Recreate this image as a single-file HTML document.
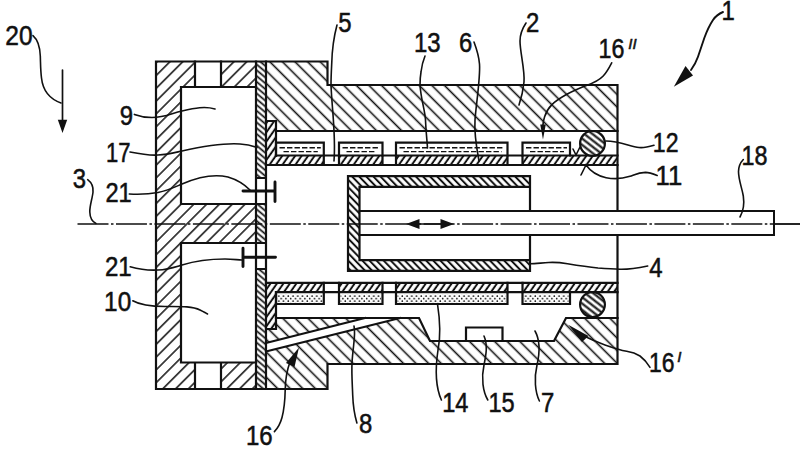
<!DOCTYPE html>
<html><head><meta charset="utf-8"><title>Fig</title>
<style>
html,body{margin:0;padding:0;background:#fff;}
body{width:800px;height:450px;overflow:hidden;font-family:"Liberation Sans",sans-serif;}
svg{display:block}
text{font-family:"Liberation Sans",sans-serif;fill:#111;stroke:#111;stroke-width:0.55px;}
.o{fill:none;stroke:#111;stroke-width:2.2;stroke-linecap:square;stroke-linejoin:miter}
.l{fill:none;stroke:#111;stroke-width:1.6;stroke-linecap:round}
.n{font-size:27.5px}
.s{font-size:15px;font-style:italic}
</style></head><body>
<svg width="800" height="450" viewBox="0 0 800 450">
<defs>
<!-- hatch patterns -->
<pattern id="hL" patternUnits="userSpaceOnUse" width="9.05" height="9.05" patternTransform="translate(156,56.5) rotate(-45)">
  <line x1="0" y1="4.5" x2="9.05" y2="4.5" stroke="#111" stroke-width="1.5"/>
</pattern>
<pattern id="hH" patternUnits="userSpaceOnUse" width="8.895" height="8.895" patternTransform="translate(262.79,61) rotate(45)">
  <line x1="0" y1="4.4475" x2="8.895" y2="4.4475" stroke="#111" stroke-width="1.6"/>
</pattern>
<pattern id="hH2" patternUnits="userSpaceOnUse" width="8.895" height="8.895" patternTransform="translate(258.25,61) rotate(45)">
  <line x1="0" y1="4.4475" x2="8.895" y2="4.4475" stroke="#111" stroke-width="1.6"/>
</pattern>
<pattern id="hP" patternUnits="userSpaceOnUse" width="4.44" height="4.44" patternTransform="translate(256,61) rotate(40)">
  <line x1="0" y1="2.2" x2="4.44" y2="2.2" stroke="#111" stroke-width="1.7"/>
</pattern>
<pattern id="hS" patternUnits="userSpaceOnUse" width="5.3" height="5.3" patternTransform="translate(266,156) rotate(-55)">
  <line x1="0" y1="2.6" x2="5.3" y2="2.6" stroke="#111" stroke-width="2.0"/>
</pattern>
<pattern id="hK" patternUnits="userSpaceOnUse" width="5.1" height="5.1" patternTransform="translate(348,176) rotate(46)">
  <line x1="0" y1="2.5" x2="5.1" y2="2.5" stroke="#111" stroke-width="2.0"/>
</pattern>
<pattern id="hO" patternUnits="userSpaceOnUse" width="5" height="5" patternTransform="translate(592.5,143.5) rotate(38)">
  <line x1="0" y1="2.5" x2="5" y2="2.5" stroke="#111" stroke-width="2.1"/>
</pattern>
<pattern id="dots" patternUnits="userSpaceOnUse" width="4.75" height="5" patternTransform="translate(277.6,294.9)">
  <circle cx="1.2" cy="1.2" r="0.85" fill="#111"/>
  <circle cx="3.57" cy="3.7" r="0.85" fill="#111"/>
</pattern>
<pattern id="liq" patternUnits="userSpaceOnUse" width="7" height="8.4" patternTransform="translate(279,144)">
  <path d="M0.5,2.6 q1.2,-1 2.4,0 t2.4,0" fill="none" stroke="#111" stroke-width="1.25"/>
  <path d="M4,6.6 q1.2,-1 2.4,0 t2.4,0 M-3,6.6 q1.2,-1 2.4,0 t2.4,0" fill="none" stroke="#111" stroke-width="1.25"/>
</pattern>
</defs>
<rect width="800" height="450" fill="#fff"/>

<!-- left block -->
<path fill="url(#hL)" fill-rule="evenodd" d="M156,61.5 H256 V389 H156 Z M195,61.5 H221 V87 H195 Z M181,87 H256 V204 H181 Z M181,243 H256 V362.5 H181 Z M195,362.5 H221 V389 H195 Z"/>
<path class="o" d="M156,61.5 H327.5 V85 H617.5 V211 M617.5,235 V364 H327.5 V389 H156 V61.5"/>
<path class="o" d="M195,61.5 V87 M221,61.5 V87 M181,87 H256 M181,87 V204 H256 M181,243 H256 M181,243 V362.5 H256 M195,362.5 V389 M221,362.5 V389"/>
<!-- plate -->
<path fill="url(#hP)" d="M256,61.5 H266 V178 H256 Z M256,204 H266 V243 H256 Z M256,269 H266 V389 H256 Z"/>
<path class="o" d="M256,61.5 V389 M266,61.5 V389 M256,178 H266 M256,204 H266 M256,243 H266 M256,269 H266"/>
<!-- upper housing -->
<path fill="url(#hH)" d="M266,61.5 H327.5 V85 H617.5 V131 H276 V121 H266 Z"/>
<path class="o" d="M276,131 H617.5 M266,121 H276 V156"/>
<!-- upper sleeve -->
<path fill="url(#hS)" d="M266,121 H276 V156 H266 Z M266,156 H323.8 V165 H266 Z M339,156 H382.5 V165 H339 Z M396,156 H507.5 V165 H396 Z M522.5,156 H617.5 V165 H522.5 Z "/>
<path class="o" d="M276,155.5 H617.5 M266,165 H617.5"/>
<path class="o" d="M323.8,156 V165 M339,156 V165 M382.5,156 V165 M396,156 V165 M507.5,156 V165 M522.5,156 V165 "/>
<path d="M279.5,147.8 H320.8" fill="none" stroke="#111" stroke-width="1.4" stroke-dasharray="5.4 2.1"/>
<path d="M283.5,151.6 H317.8" fill="none" stroke="#111" stroke-width="1.4" stroke-dasharray="5.4 2.1"/>
<path class="o" d="M276,155.5 V142.7 H323.8 V155.5"/>
<path d="M342.5,147.8 H379.5" fill="none" stroke="#111" stroke-width="1.4" stroke-dasharray="5.4 2.1"/>
<path d="M346.5,151.6 H376.5" fill="none" stroke="#111" stroke-width="1.4" stroke-dasharray="5.4 2.1"/>
<path class="o" d="M339,155.5 V142.7 H382.5 V155.5"/>
<path d="M399.5,147.8 H504.5" fill="none" stroke="#111" stroke-width="1.4" stroke-dasharray="5.4 2.1"/>
<path d="M403.5,151.6 H501.5" fill="none" stroke="#111" stroke-width="1.4" stroke-dasharray="5.4 2.1"/>
<path class="o" d="M396,155.5 V142.7 H507.5 V155.5"/>
<path d="M526.0,147.8 H567" fill="none" stroke="#111" stroke-width="1.4" stroke-dasharray="5.4 2.1"/>
<path d="M530.0,151.6 H564" fill="none" stroke="#111" stroke-width="1.4" stroke-dasharray="5.4 2.1"/>
<path class="o" d="M522.5,155.5 V142.7 H570 V155.5"/>
<!-- lower sleeve -->
<path fill="url(#hS)" d="M266,292 H276 V329 H266 Z M266,282.8 H323.8 V292.1 H266 Z M339,282.8 H382.5 V292.1 H339 Z M396,282.8 H507.5 V292.1 H396 Z M522.5,282.8 H617.5 V292.1 H522.5 Z "/>
<path class="o" d="M266,282.8 H617.5 M276,292.1 H617.5 M276,292.1 V329 H266"/>
<path class="o" d="M323.8,282.8 V292.1 M339,282.8 V292.1 M382.5,282.8 V292.1 M396,282.8 V292.1 M507.5,282.8 V292.1 M522.5,282.8 V292.1 "/>
<rect x="277.5" y="294.8" width="44.80000000000001" height="7.8" fill="url(#dots)"/>
<path class="o" d="M276,292.1 V304 H323.8 V292.1"/>
<rect x="340.5" y="294.8" width="40.5" height="7.8" fill="url(#dots)"/>
<path class="o" d="M339,292.1 V304 H382.5 V292.1"/>
<rect x="397.5" y="294.8" width="108.5" height="7.8" fill="url(#dots)"/>
<path class="o" d="M396,292.1 V304 H507.5 V292.1"/>
<rect x="524.0" y="294.8" width="44.5" height="7.8" fill="url(#dots)"/>
<path class="o" d="M522.5,292.1 V304 H570 V292.1"/>
<!-- lower housing -->
<path fill="url(#hH2)" fill-rule="evenodd" d="M266,329 H276 V318 H419 L430,341 H554 L566,318 H617.5 V364 H327.5 V389 H266 Z M266,343 L365,318 H400 L266,351.5 Z"/>
<path class="o" d="M276,318 H419 L430,341 H554 L566,318 H617.5 M266,343 L365,318 M400,318 L266,351.5"/>
<path class="o" d="M466,341 V327.5 H502.5 V341" fill="#fff"/>
<!-- o-rings -->
<circle cx="592.5" cy="143.4" r="12.4" fill="#fff"/>
<circle cx="592.5" cy="143.4" r="12.4" fill="url(#hO)" stroke="#111" stroke-width="2.2"/>
<circle cx="592.5" cy="304.6" r="12.4" fill="#fff"/>
<circle cx="592.5" cy="304.6" r="12.4" fill="url(#hO)" stroke="#111" stroke-width="2.2"/>
<path class="l" d="M573,149 L576,155 L580,147"/>
<!-- piston -->
<path fill="url(#hK)" d="M348,176.2 H530 V186.8 H359.5 V260.2 H530 V270.8 H348 Z"/>
<path class="o" d="M348,176.2 H530 V186.8 H359.5 V260.2 H530 V270.8 H348 Z M530,186.8 V211 M530,235 V260.2"/>
<!-- rod -->
<path class="o" style="stroke-width:2" d="M359.5,211 H774 V235 H359.5"/>
<!-- centre line -->
<path d="M77.5,224 H800" fill="none" stroke="#111" stroke-width="1.3" stroke-dasharray="31 2.5 2.5 2.46"/>
<path d="M410,224 H450" fill="none" stroke="#111" stroke-width="1.6"/>
<path d="M406,224 L419.5,219 V229 Z M454,224 L440.5,219 V229 Z" fill="#111"/>
<path d="M774,224 H800" fill="none" stroke="#111" stroke-width="1.3"/>
<!-- valves -->
<path d="M243,191 H275 M275,182 V201.5 M243,257.2 H275.5 M243,248.3 V266.5" fill="none" stroke="#111" stroke-width="2.9" stroke-linecap="round"/>
<!-- arrows & leaders -->
<path class="l" style="stroke-width:1.7" d="M62.5,70 V125"/>
<path d="M62.5,133 L57.8,119.8 H67.2 Z" fill="#111"/>
<path class="l" d="M33,35.6 C38,40 40,48 40.3,56 C40.6,64 40.5,70 41.5,78 C43,92 50,99 61,103"/>
<path class="l" d="M87.7,179.7 C92,183 93.5,187 93,192 C92.5,198 89.5,206 89.8,212 C90,218 93,222 96,223.5"/>
<path class="l" d="M134.4,114.4 C140,116.5 146,117.5 152,117.5 C165,117.5 172,113 182,111 C195,108 205,106 215,109"/>
<path class="l" d="M130,152 C140,154 150,155.5 158,155 C168,154.5 175,152.5 182,151 C200,147 225,143 240,144 C248,144.5 253,146 257,147.5"/>
<path class="l" d="M129.3,194 C140,194.5 150,194 158,192.5 C168,190.5 175,187 182,184 C198,177 215,174 228,177 C238,180 245,185 250,190"/>
<path class="l" d="M130.2,266.7 C140,269.5 150,270.5 158,270 C168,269.5 175,267 182,265 C198,260 212,259 225,259 C233,259 238,260 242,260"/>
<path class="l" d="M132.8,300.8 C140,305 150,306.5 165,306.5 C180,306.5 192,306 200,310 C204,312 206,313 207.5,314"/>
<path class="l" d="M337,25 C333.5,38 332,52 331.7,64 C331.3,72 331,78 331,85 C332,110 336,135 334,161"/>
<path class="l" d="M425,56 C422.5,62 421.5,68 421,72 C420,78 420,82 420,85 C421,100 425,110 425.5,120 C426,132 427,140 427.5,148"/>
<path class="l" d="M474,42 C477,50 479,58 479.5,64 C480.5,78 476,105 475,120 C474,135 477,150 479,161"/>
<path class="l" d="M526,23 C522,29 520,35 520,41 C520,52 525,70 524,82 C523,92 521,99 519,105"/>
<path class="l" d="M611.7,62.8 C609,68 606.5,72.5 603.2,76 C598,81.5 592,83.5 586.2,85.5 C580,88 573,91 567.3,94 C561,97.5 556,100.5 552.1,104.4 C548,108.5 546,112.5 544.6,116.7 C543.5,120 543,123 542.8,126"/>
<path class="l" d="M654,145.2 C648,147 643,148 639,147.5 C630,146.5 620,141 606,141"/>
<path class="l" d="M657.2,175.5 C652,173.5 648,172.5 645.5,172.4 C638,172.4 634,175 630,176.3 C615,181 596,179 586,165 L581,175"/>
<path class="l" d="M743.3,159.5 C740,163 738.5,167 738.5,171.6 C738.5,180 742,188 743.3,196 C744.5,204 744,210 740,217"/>
<path class="l" d="M647.7,266 C638,268 628,269.5 620,269.3 C612,269 605,268.5 598,268 C588,267 578,265.5 567.5,263.8 C560,262.5 554,262.2 548.7,262.5 C541,263 535,263.8 530,263.8"/>
<path class="l" d="M650,367.3 C647,362.5 644,359 640,356 C636,353.5 631,352 626.7,351.3 C619,350 612,347.5 605,345 C597,342 590,339 584,336"/>
<path class="l" d="M437.5,304 C440,320 441,335 438,350 C435,370 436,388 441.4,400"/>
<path class="l" d="M484,336 C488,345 486,355 484,365 C481,378 483,392 487.8,400"/>
<path class="l" d="M535,331 C540,340 540,352 537,365 C534,378 535,392 539.4,401"/>
<path class="l" d="M274.4,431.6 C278,428 280.5,423 282,417.5 C284.5,408 285,400 285.2,390 C285.4,378 287,370 290,362"/>
<path class="l" d="M356.9,423 C354,413 353,404 352.7,395 C352.3,384 351.5,373 352,363 C353,345 356,335 354,326"/>
<path class="l" style="stroke-width:1.9" d="M723,12 C718,14 715,17 713,20 C709,26 706.5,32 704.4,37.8 C702,45 700,51 698,56.7 C696.5,61 694.5,65 691,70"/>
<path d="M543,139.5 L540.2,124.5 L545.8,124.5 Z" fill="#111"/>
<path d="M673.8,86.7 L685.5,66 L693,75.5 Z" fill="#111"/>
<path d="M568.2,324.8 L588.5,336 L582,342 Z" fill="#111"/>
<path d="M299,347.5 L294.5,367 L286,363 Z" fill="#111"/>
<!-- labels -->
<text class="n" x="5.3" y="45.2" textLength="27.3" lengthAdjust="spacingAndGlyphs">20</text>
<text class="n" x="721.4" y="20.4" textLength="13.3" lengthAdjust="spacingAndGlyphs">1</text>
<text class="n" x="338.3" y="32.3" textLength="13.3" lengthAdjust="spacingAndGlyphs">5</text>
<text class="n" x="414.0" y="52.4" textLength="26.7" lengthAdjust="spacingAndGlyphs">13</text>
<text class="n" x="459.0" y="52.3" textLength="13.3" lengthAdjust="spacingAndGlyphs">6</text>
<text class="n" x="526.0" y="32.2" textLength="13.3" lengthAdjust="spacingAndGlyphs">2</text>
<text class="n" x="598.5" y="58.3" textLength="25.9" lengthAdjust="spacingAndGlyphs">16</text>
<text class="s" x="628.3" y="49">II</text>
<text class="n" x="119.7" y="124.7" textLength="13.3" lengthAdjust="spacingAndGlyphs">9</text>
<text class="n" x="105.9" y="161.8" textLength="24.5" lengthAdjust="spacingAndGlyphs">17</text>
<text class="n" x="72.8" y="187.6" textLength="13.3" lengthAdjust="spacingAndGlyphs">3</text>
<text class="n" x="105.4" y="202.1" textLength="26.3" lengthAdjust="spacingAndGlyphs">21</text>
<text class="n" x="104.9" y="276.1" textLength="26.8" lengthAdjust="spacingAndGlyphs">21</text>
<text class="n" x="104.1" y="311.0" textLength="27.1" lengthAdjust="spacingAndGlyphs">10</text>
<text class="n" x="652.8" y="152.1" textLength="25.7" lengthAdjust="spacingAndGlyphs">12</text>
<text class="n" x="655.6" y="184.9" textLength="26.7" lengthAdjust="spacingAndGlyphs">11</text>
<text class="n" x="741.5" y="165.3" textLength="26.0" lengthAdjust="spacingAndGlyphs">18</text>
<text class="n" x="649.2" y="276.8" textLength="13.3" lengthAdjust="spacingAndGlyphs">4</text>
<text class="n" x="648.9" y="372.3" textLength="25.5" lengthAdjust="spacingAndGlyphs">16</text>
<text class="s" x="677.3" y="361.5">I</text>
<text class="n" x="442.2" y="411.8" textLength="26.2" lengthAdjust="spacingAndGlyphs">14</text>
<text class="n" x="488.4" y="411.8" textLength="26.2" lengthAdjust="spacingAndGlyphs">15</text>
<text class="n" x="541.0" y="411.8" textLength="13.3" lengthAdjust="spacingAndGlyphs">7</text>
<text class="n" x="246.0" y="444.9" textLength="26.7" lengthAdjust="spacingAndGlyphs">16</text>
<text class="n" x="358.9" y="433.1" textLength="13.3" lengthAdjust="spacingAndGlyphs">8</text>
</svg></body></html>
